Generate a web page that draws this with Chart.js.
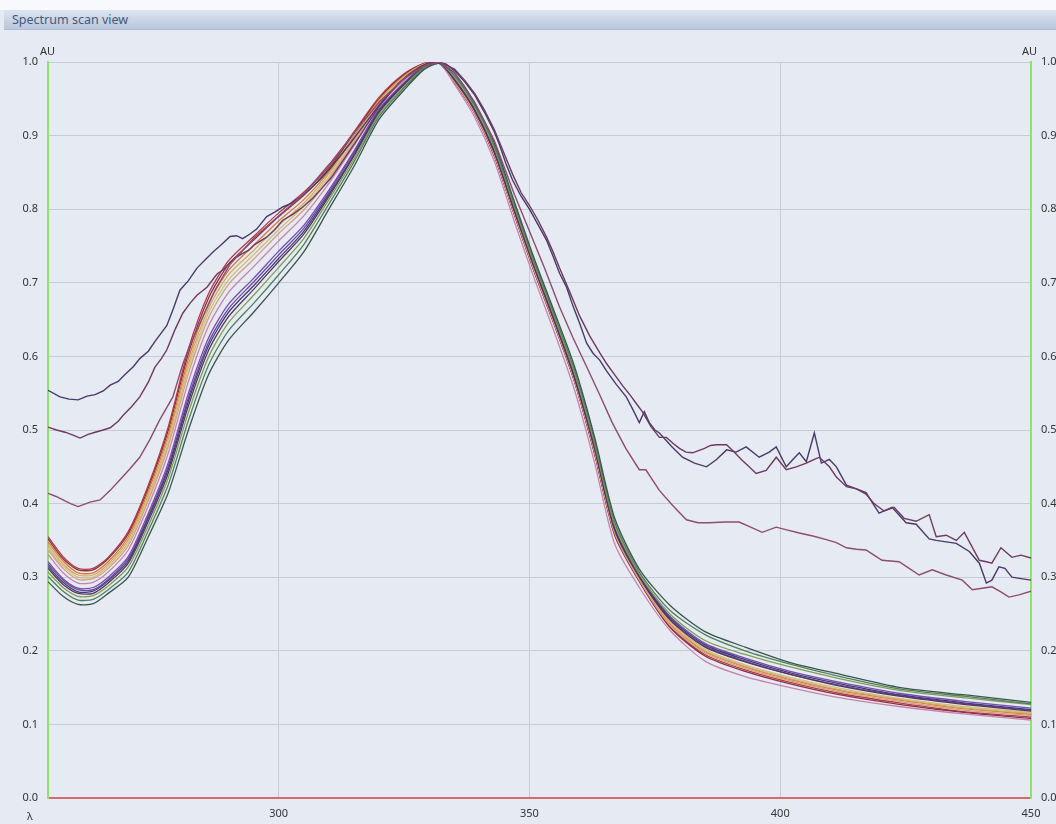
<!DOCTYPE html>
<html>
<head>
<meta charset="utf-8">
<title>Spectrum scan view</title>
<script src="https://cdn.jsdelivr.net/npm/chart.js@4.4.1/dist/chart.umd.min.js"></script>
<style>
  html, body { margin: 0; padding: 0; background: #ffffff; }
  #panel { position: absolute; left: 0; top: 0; width: 1056px; height: 824px; background: #e5eaf3; overflow: hidden;
           font-family: "Noto Sans", "Open Sans", sans-serif; }
  #topstrip { position: absolute; left: 0; top: 0; width: 1056px; height: 10px; background: #f7f9fc; }
  #titlebar { position: absolute; left: 4px; right: 0; top: 10px; height: 19px; line-height: 19px;
              background: linear-gradient(#dce4f0, #b9c8dc); border-bottom: 1px solid #aebdd1;
              color: #46587c; font-size: 12.5px; padding-left: 8px; }
  .unit { position: absolute; font-size: 11px; color: #333; line-height: 12px; }
  #chart { position: absolute; left: 0; top: 0; }
</style>
</head>
<body>
<div id="panel">
  <div id="topstrip"></div>
  <div id="titlebar">Spectrum scan view</div>
  <canvas id="chart" width="1056" height="824"></canvas>
  <div class="unit" style="left:40px; top:45px;">AU</div>
  <div class="unit" style="left:1022px; top:45px;">AU</div>
  <div class="unit" style="left:27px; top:810px;">λ</div>
</div>
<script>
// Wavelength axis (nm) and absorbance axis tick values
const X_TICKS = [300, 350, 400, 450];
const Y_TICKS = [0, 0.1, 0.2, 0.3, 0.4, 0.5, 0.6, 0.7, 0.8, 0.9, 1.0];

// Sampling wavelengths shared by the main group of scans
const GRID_NM = [254, 257, 260, 263, 266, 270, 274, 278, 282, 286, 290, 295, 300, 305, 310, 315, 320, 325, 329, 332,
                 335, 339, 343, 347, 351, 355, 359, 363, 367, 372, 378, 385, 393, 402, 412, 424, 437, 450];

// Normalised absorbance of each scan in the main group
const s01 = [0.355,0.328,0.312,0.312,0.327,0.362,0.425,0.505,0.610,0.685,0.730,0.763,0.795,0.823,0.858,0.905,0.952,0.984,0.998,0.998,
             0.973,0.932,0.873,0.793,0.715,0.643,0.566,0.468,0.358,0.294,0.233,0.195,0.174,0.157,0.142,0.129,0.117,0.110];
const s02 = [0.352,0.325,0.310,0.310,0.325,0.359,0.421,0.500,0.604,0.679,0.725,0.758,0.790,0.819,0.855,0.903,0.950,0.983,0.998,1.000,
             0.973,0.931,0.872,0.792,0.714,0.642,0.565,0.467,0.357,0.293,0.232,0.193,0.172,0.155,0.140,0.127,0.116,0.108];
const s03 = [0.348,0.322,0.306,0.306,0.321,0.355,0.417,0.494,0.597,0.672,0.717,0.751,0.784,0.813,0.851,0.899,0.948,0.981,0.997,1.000,
             0.974,0.933,0.875,0.795,0.717,0.645,0.568,0.471,0.361,0.296,0.237,0.199,0.178,0.161,0.146,0.133,0.121,0.114];
const s04 = [0.344,0.318,0.303,0.303,0.318,0.351,0.412,0.489,0.590,0.665,0.711,0.744,0.778,0.808,0.848,0.897,0.947,0.980,0.997,1.000,
             0.975,0.934,0.875,0.795,0.718,0.645,0.568,0.472,0.362,0.297,0.238,0.200,0.179,0.162,0.147,0.134,0.122,0.115];
const s05 = [0.340,0.315,0.300,0.300,0.315,0.347,0.408,0.483,0.584,0.659,0.704,0.738,0.772,0.804,0.844,0.894,0.945,0.979,0.996,1.000,
             0.975,0.934,0.876,0.796,0.719,0.646,0.569,0.473,0.363,0.298,0.240,0.202,0.181,0.164,0.149,0.135,0.124,0.116];
const s06 = [0.337,0.312,0.297,0.298,0.312,0.343,0.404,0.478,0.577,0.652,0.698,0.732,0.767,0.799,0.841,0.891,0.943,0.977,0.996,1.000,
             0.974,0.932,0.874,0.794,0.716,0.644,0.567,0.470,0.360,0.295,0.235,0.197,0.176,0.159,0.144,0.131,0.119,0.112];
const s07 = [0.331,0.306,0.292,0.293,0.307,0.337,0.397,0.469,0.566,0.641,0.687,0.722,0.757,0.791,0.835,0.886,0.940,0.975,0.995,0.999,
             0.970,0.926,0.865,0.783,0.705,0.632,0.554,0.455,0.345,0.285,0.228,0.186,0.165,0.150,0.136,0.124,0.114,0.106];
const s08 = [0.321,0.298,0.285,0.286,0.300,0.328,0.387,0.456,0.550,0.625,0.671,0.706,0.743,0.778,0.826,0.879,0.936,0.972,0.994,0.999,
             0.977,0.937,0.879,0.800,0.722,0.650,0.573,0.477,0.367,0.301,0.247,0.210,0.190,0.172,0.157,0.142,0.131,0.122];
const s09 = [0.318,0.296,0.283,0.283,0.297,0.325,0.383,0.451,0.544,0.619,0.665,0.701,0.738,0.774,0.823,0.877,0.934,0.971,0.993,0.999,
             0.976,0.936,0.878,0.798,0.720,0.648,0.571,0.475,0.365,0.300,0.243,0.206,0.186,0.168,0.153,0.139,0.128,0.119];
const s10 = [0.315,0.293,0.280,0.281,0.295,0.322,0.380,0.447,0.539,0.614,0.660,0.696,0.733,0.770,0.820,0.874,0.933,0.970,0.993,0.999,
             0.977,0.936,0.878,0.799,0.721,0.649,0.572,0.476,0.366,0.300,0.245,0.208,0.188,0.170,0.155,0.140,0.129,0.120];
const s11 = [0.312,0.290,0.278,0.278,0.292,0.319,0.376,0.442,0.533,0.608,0.654,0.691,0.729,0.766,0.817,0.872,0.931,0.969,0.992,0.999,
             0.976,0.935,0.877,0.797,0.720,0.647,0.570,0.474,0.364,0.299,0.242,0.205,0.185,0.168,0.152,0.138,0.127,0.118];
const s12 = [0.307,0.286,0.274,0.275,0.288,0.314,0.370,0.435,0.524,0.599,0.646,0.683,0.721,0.760,0.813,0.868,0.929,0.967,0.992,0.999,
             0.980,0.940,0.883,0.803,0.725,0.653,0.577,0.481,0.371,0.303,0.250,0.214,0.195,0.178,0.162,0.146,0.136,0.127];
const s13 = [0.301,0.281,0.269,0.270,0.283,0.307,0.363,0.426,0.513,0.588,0.635,0.672,0.711,0.752,0.807,0.864,0.926,0.965,0.991,0.998,
             0.982,0.942,0.886,0.806,0.728,0.656,0.581,0.485,0.375,0.306,0.255,0.222,0.200,0.182,0.165,0.148,0.138,0.128];
const s14 = [0.294,0.274,0.263,0.264,0.278,0.300,0.355,0.415,0.500,0.575,0.622,0.660,0.700,0.742,0.800,0.858,0.922,0.962,0.990,0.998,
             0.985,0.945,0.890,0.810,0.732,0.660,0.586,0.490,0.380,0.310,0.262,0.226,0.205,0.184,0.168,0.150,0.140,0.130];

// Three scans with a raised baseline, sampled more finely
const scanA_nm = [254.0,256.4,258.2,260.0,261.8,263.4,265.0,266.4,268.0,269.3,271.0,272.3,274.0,275.3,276.6,277.7,279.0,280.3,282.0,283.7,
                  285.3,286.9,288.6,290.3,291.6,292.8,294.2,295.6,297.6,299.2,300.8,302.5,304.2,306.2,308.2,310.2,312.2,314.2,316.2,318.2,
                  320.1,322.1,324.1,326.1,328.1,330.0,331.7,333.4,335.1,337.1,339.1,341.0,343.0,344.0,345.3,346.6,348.3,350.0,351.7,353.4,
                  354.7,356.0,357.4,358.7,360.0,361.4,362.7,364.0,365.4,367.3,369.3,370.6,371.9,372.9,373.9,375.0,375.9,378.3,380.5,382.9,
                  385.3,387.3,389.3,391.2,393.2,395.8,397.8,399.2,401.2,402.8,403.8,405.2,406.8,408.2,409.8,411.2,413.2,415.2,417.1,419.7,
                  422.3,425.1,427.1,429.7,431.1,433.1,435.1,437.7,439.7,441.1,442.2,443.6,444.8,446.2,448.0,450.0];
const scanA_au = [0.554,0.545,0.542,0.541,0.546,0.548,0.553,0.561,0.566,0.575,0.586,0.597,0.607,0.620,0.632,0.642,0.665,0.690,0.703,0.720,
                  0.731,0.742,0.752,0.763,0.764,0.760,0.766,0.773,0.790,0.796,0.803,0.808,0.816,0.827,0.840,0.855,0.872,0.889,0.907,0.925,
                  0.942,0.958,0.972,0.984,0.993,0.999,1.000,0.997,0.988,0.973,0.955,0.932,0.905,0.888,0.862,0.840,0.818,0.800,0.779,0.758,
                  0.736,0.713,0.694,0.668,0.645,0.618,0.604,0.595,0.580,0.562,0.545,0.528,0.510,0.525,0.510,0.500,0.496,0.478,0.463,0.455,
                  0.450,0.460,0.473,0.470,0.477,0.463,0.470,0.477,0.450,0.462,0.469,0.457,0.496,0.455,0.460,0.450,0.425,0.420,0.415,0.387,
                  0.395,0.374,0.372,0.352,0.350,0.348,0.346,0.335,0.319,0.292,0.296,0.314,0.312,0.300,0.298,0.296];

const scanB_nm = [254.0,255.7,257.4,259.0,260.4,262.0,263.4,265.0,266.4,268.0,269.0,270.7,272.3,274.0,275.3,276.6,277.7,279.3,280.9,282.3,
                  283.7,285.7,287.7,289.0,290.3,291.6,292.8,294.0,295.2,297.6,299.2,300.8,302.8,304.8,306.8,308.8,310.5,312.2,314.2,316.2,
                  318.2,320.1,322.1,324.1,326.1,328.1,330.0,331.7,333.4,335.1,337.1,339.1,341.0,343.0,344.8,346.6,348.3,350.0,351.7,353.4,
                  354.7,356.0,358.0,360.0,362.0,364.0,365.4,367.0,368.6,370.0,371.3,372.5,374.2,375.9,377.3,378.6,379.9,381.2,382.5,383.7,
                  384.9,386.1,387.3,389.3,390.8,392.4,393.8,395.2,397.2,399.2,401.2,403.2,405.2,406.8,407.8,409.8,411.2,413.2,415.2,417.1,
                  418.7,420.7,422.7,424.7,427.1,429.7,431.1,433.1,435.1,436.7,439.7,441.1,442.2,444.0,446.2,448.0,450.0];
const scanB_au = [0.504,0.500,0.497,0.493,0.489,0.494,0.497,0.500,0.503,0.512,0.520,0.532,0.545,0.565,0.585,0.597,0.609,0.636,0.659,0.672,
                  0.683,0.694,0.712,0.718,0.728,0.735,0.740,0.744,0.752,0.762,0.772,0.785,0.793,0.803,0.815,0.830,0.843,0.860,0.880,0.900,
                  0.921,0.940,0.957,0.972,0.984,0.993,0.999,1.000,0.996,0.990,0.975,0.957,0.935,0.908,0.878,0.848,0.823,0.805,0.785,0.762,
                  0.742,0.720,0.688,0.655,0.628,0.605,0.590,0.575,0.560,0.548,0.536,0.525,0.505,0.490,0.490,0.482,0.475,0.470,0.469,0.472,
                  0.475,0.479,0.480,0.480,0.470,0.459,0.450,0.441,0.445,0.463,0.446,0.450,0.455,0.460,0.463,0.450,0.436,0.423,0.420,0.413,
                  0.400,0.390,0.395,0.380,0.376,0.385,0.355,0.357,0.350,0.361,0.323,0.321,0.319,0.340,0.327,0.330,0.326];

const scanC_nm = [254.0,255.5,257.0,258.5,260.0,261.2,262.4,264.4,266.4,268.3,270.3,272.3,274.3,276.3,278.9,280.9,282.3,284.3,287.3,290.3,
                  295.2,300.2,305.2,310.2,315.2,320.1,325.1,329.1,332.1,335.1,339.1,343.0,347.0,350.0,353.0,356.0,358.7,361.4,364.0,366.5,
                  369.2,371.9,373.2,375.9,378.6,381.3,383.6,385.9,388.9,391.8,394.1,396.4,399.2,401.5,403.8,406.5,409.2,411.2,413.2,415.2,
                  417.1,418.7,420.3,423.7,425.7,427.7,430.3,433.1,436.3,438.3,440.3,442.2,444.0,445.6,447.6,450.0];
const scanC_au = [0.414,0.410,0.405,0.400,0.396,0.399,0.402,0.405,0.418,0.432,0.447,0.463,0.487,0.514,0.545,0.590,0.615,0.645,0.690,0.725,
                  0.762,0.792,0.822,0.862,0.905,0.946,0.978,0.995,1.000,0.985,0.945,0.893,0.820,0.770,0.720,0.667,0.625,0.586,0.548,0.510,
                  0.475,0.446,0.446,0.418,0.397,0.378,0.374,0.374,0.375,0.375,0.368,0.361,0.368,0.364,0.360,0.356,0.351,0.347,0.340,0.338,
                  0.337,0.330,0.323,0.321,0.312,0.303,0.310,0.303,0.296,0.283,0.285,0.287,0.280,0.273,0.276,0.281];

// Line colour of each scan
const groupSeries = [
  { vals: s14, color: '#3b5549' }, { vals: s13, color: '#4f8060' }, { vals: s12, color: '#80a050' },
  { vals: s11, color: '#5a3262' }, { vals: s10, color: '#3f3f72' }, { vals: s09, color: '#6a4a9c' },
  { vals: s08, color: '#7c4ab4' }, { vals: s07, color: '#c884ac' }, { vals: s06, color: '#d4a080' },
  { vals: s05, color: '#cdbf7e' }, { vals: s04, color: '#d8a858' }, { vals: s03, color: '#d47a3a' },
  { vals: s02, color: '#8e3040' }, { vals: s01, color: '#b53a48' }
];
const raisedSeries = [
  { nm: scanC_nm, vals: scanC_au, color: '#8d4c70' },
  { nm: scanB_nm, vals: scanB_au, color: '#6e3a60' },
  { nm: scanA_nm, vals: scanA_au, color: '#4a3a68' }
];

const datasets = [];
raisedSeries.forEach(s => datasets.push({
  data: s.nm.map((x, i) => ({ x, y: s.vals[i] })),
  borderColor: s.color, borderWidth: 1.4, tension: 0, pointRadius: 0, fill: false
}));
groupSeries.forEach(s => datasets.push({
  data: GRID_NM.map((x, i) => ({ x, y: s.vals[i] })),
  borderColor: s.color, borderWidth: 1.3, tension: 0.25, pointRadius: 0, fill: false
}));

const tickFont = { family: '"Noto Sans", "Open Sans", sans-serif', size: 11 };
const gridColor = '#c6cbd7';

new Chart(document.getElementById('chart'), {
  type: 'line',
  data: { datasets },
  options: {
    responsive: false,
    animation: false,
    devicePixelRatio: 1,
    layout: { padding: { top: 62, left: 0, right: 0, bottom: 0 } },
    plugins: { legend: { display: false }, tooltip: { enabled: false }, title: { display: false } },
    scales: {
      x: {
        type: 'linear', min: 254, max: 450,
        afterFit: s => { s.height = 26; },
        afterBuildTicks: s => { s.ticks = X_TICKS.map(v => ({ value: v })); },
        grid: { color: gridColor, lineWidth: 1, drawTicks: false },
        border: { color: '#d56b6b', width: 2 },
        ticks: { padding: 9, color: '#333', font: tickFont, maxRotation: 0, autoSkip: false }
      },
      y: {
        type: 'linear', position: 'left', min: 0, max: 1,
        afterFit: s => { s.width = 48; },
        afterBuildTicks: s => { s.ticks = Y_TICKS.map(v => ({ value: v })); },
        grid: { color: gridColor, lineWidth: 1, drawTicks: false },
        border: { color: '#8ee36b', width: 2 },
        ticks: { padding: 10, color: '#333', font: tickFont, callback: v => Number(v).toFixed(1) }
      },
      y2: {
        type: 'linear', position: 'right', min: 0, max: 1,
        afterFit: s => { s.width = 25; },
        afterBuildTicks: s => { s.ticks = Y_TICKS.map(v => ({ value: v })); },
        grid: { display: false, drawTicks: false },
        border: { color: '#8ee36b', width: 2 },
        ticks: { padding: 10, color: '#333', font: tickFont, callback: v => Number(v).toFixed(1) }
      }
    }
  }
});
</script>
</body>
</html>
